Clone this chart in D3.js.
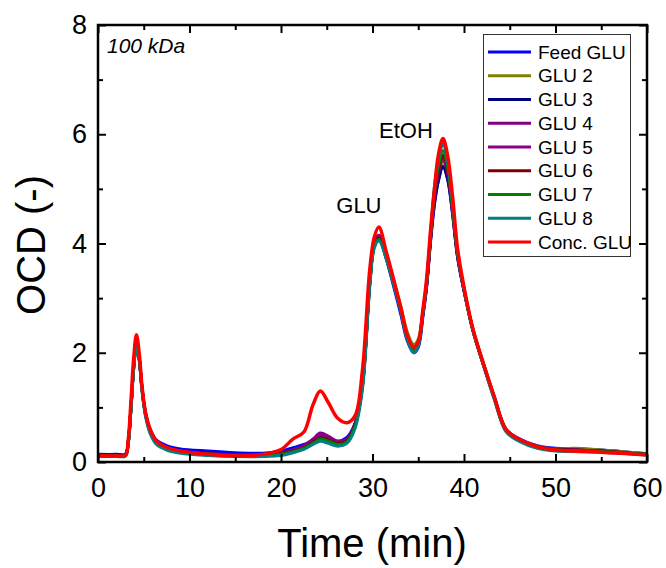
<!DOCTYPE html>
<html><head><meta charset="utf-8">
<script src="https://cdn.jsdelivr.net/npm/d3@7"></script>
<style>
html,body{margin:0;padding:0;background:#fff;}
svg{display:block;font-family:"Liberation Sans",Arial,sans-serif;}
</style>
</head><body>
<svg id="c" width="666" height="568"></svg>
<script>
const time = [0,2,3,3.3,3.6,3.9,4.2,4.5,4.8,5.2,
 5.7,6.4,7.5,9,12,15,18,20,21.3,22.5,
 23.5,24.3,25.2,26.2,27.2,28.1,28.9,29.7,30.2,30.7,
 31.5,32.3,33.1,33.8,34.5,35.0,35.5,35.9,36.35,36.8,
 37.2,37.7,38.2,38.75,39.3,40.2,41.0,42.1,43.3,44.6,
 46,48,50,52,55,58,60];

const feedGLU = [0.14,0.14,0.15,0.38,1.0,1.75,2.17,1.92,1.38,0.9,
 0.6,0.4,0.3,0.24,0.2,0.17,0.16,0.2,0.26,0.32,
 0.4,0.46,0.42,0.38,0.45,0.72,1.45,3.3,3.98,4.12,
 3.72,3.22,2.7,2.22,2.0,2.1,2.65,3.18,4.05,4.75,
 5.15,5.42,5.2,4.55,3.75,2.98,2.4,1.8,1.2,0.6,
 0.43,0.3,0.25,0.24,0.22,0.18,0.15];
const glu2 = [0.12,0.12,0.13,0.35,0.98,1.72,2.13,1.9,1.36,0.87,
 0.57,0.36,0.26,0.19,0.15,0.13,0.13,0.16,0.21,0.27,
 0.36,0.42,0.39,0.34,0.4,0.68,1.42,3.3,4.0,4.15,
 3.8,3.32,2.85,2.38,2.15,2.25,2.75,3.25,4.12,4.88,
 5.25,5.5,5.28,4.62,3.8,3.0,2.42,1.82,1.2,0.6,
 0.42,0.29,0.24,0.25,0.22,0.18,0.15];
const glu3 = [0.12,0.12,0.13,0.35,0.98,1.73,2.14,1.9,1.36,0.87,
 0.56,0.36,0.26,0.19,0.15,0.13,0.13,0.16,0.21,0.28,
 0.38,0.46,0.41,0.35,0.4,0.68,1.4,3.28,3.96,4.1,
 3.75,3.28,2.78,2.3,2.08,2.17,2.7,3.2,4.07,4.78,
 5.15,5.4,5.18,4.55,3.75,2.98,2.4,1.8,1.18,0.58,
 0.41,0.28,0.23,0.22,0.2,0.16,0.14];
const glu4 = [0.12,0.12,0.13,0.35,0.99,1.74,2.15,1.9,1.36,0.87,
 0.56,0.36,0.26,0.19,0.15,0.13,0.13,0.16,0.22,0.3,
 0.42,0.53,0.47,0.38,0.42,0.7,1.42,3.3,4.0,4.15,
 3.78,3.3,2.8,2.3,2.07,2.17,2.72,3.22,4.1,4.88,
 5.28,5.55,5.3,4.6,3.78,2.99,2.4,1.8,1.18,0.58,
 0.41,0.28,0.23,0.22,0.2,0.16,0.14];
const glu5 = [0.12,0.12,0.13,0.35,0.99,1.74,2.15,1.9,1.36,0.87,
 0.56,0.36,0.26,0.19,0.15,0.13,0.13,0.16,0.22,0.29,
 0.4,0.5,0.45,0.37,0.41,0.69,1.41,3.29,3.99,4.13,
 3.77,3.29,2.79,2.29,2.06,2.17,2.72,3.23,4.12,4.92,
 5.32,5.6,5.33,4.62,3.8,3.0,2.4,1.8,1.18,0.58,
 0.41,0.28,0.23,0.22,0.2,0.16,0.14];
const glu6 = [0.12,0.12,0.13,0.35,0.99,1.74,2.15,1.9,1.36,0.87,
 0.56,0.36,0.26,0.19,0.15,0.13,0.13,0.15,0.2,0.26,
 0.36,0.44,0.4,0.34,0.39,0.68,1.4,3.27,3.96,4.1,
 3.75,3.28,2.78,2.28,2.05,2.16,2.72,3.23,4.13,4.95,
 5.34,5.62,5.35,4.63,3.8,3.0,2.4,1.8,1.18,0.58,
 0.41,0.28,0.23,0.22,0.2,0.16,0.14];
const glu7 = [0.11,0.11,0.12,0.34,0.98,1.73,2.14,1.89,1.35,0.86,
 0.55,0.35,0.25,0.18,0.14,0.12,0.12,0.14,0.19,0.25,
 0.34,0.42,0.38,0.32,0.37,0.66,1.38,3.25,3.95,4.08,
 3.73,3.27,2.77,2.27,2.04,2.15,2.72,3.25,4.17,5.0,
 5.42,5.7,5.42,4.66,3.82,3.0,2.4,1.8,1.18,0.58,
 0.4,0.27,0.22,0.21,0.19,0.16,0.14];
const glu8 = [0.1,0.1,0.11,0.32,0.95,1.7,2.1,1.86,1.32,0.83,
 0.52,0.32,0.22,0.16,0.12,0.1,0.1,0.12,0.17,0.23,
 0.32,0.38,0.34,0.29,0.34,0.62,1.33,3.2,3.92,4.05,
 3.72,3.26,2.76,2.25,2.0,2.13,2.72,3.27,4.2,5.08,
 5.52,5.82,5.5,4.7,3.84,3.0,2.38,1.78,1.15,0.55,
 0.38,0.25,0.2,0.19,0.18,0.15,0.13];
const concGLU = [0.11,0.11,0.12,0.4,1.1,1.9,2.33,2.0,1.4,0.9,
 0.6,0.38,0.27,0.2,0.14,0.11,0.14,0.23,0.42,0.55,
 1.05,1.30,1.08,0.8,0.72,0.85,1.68,3.52,4.12,4.30,
 3.85,3.35,2.82,2.32,2.1,2.2,2.78,3.33,4.25,5.05,
 5.62,5.92,5.62,4.86,3.9,3.03,2.42,1.81,1.2,0.59,
 0.42,0.28,0.22,0.2,0.18,0.15,0.13];

const seriesNames = ["Feed GLU","GLU 2","GLU 3","GLU 4","GLU 5","GLU 6","GLU 7","GLU 8","Conc. GLU"];
const seriesValues = [feedGLU,glu2,glu3,glu4,glu5,glu6,glu7,glu8,concGLU];
const seriesColors = ["#0000FF","#808000","#000080","#800080","#8B008B","#800000","#008000","#008080","#FF0000"];

const xTicks = [0,10,20,30,40,50,60];
const xMinor = [5,15,25,35,45,55];
const yTicks = [0,2,4,6,8];
const yMinor = [1,3,5,7];
const xTitle = "Time (min)";
const yTitle = "OCD (-)";
const panelLabel = "100 kDa";
const peakLabels = [{text:"GLU", t:30.7, v:4.3}, {text:"EtOH", t:37.7, v:5.92}];

const svg = d3.select("#c");
const L = 98, R = 647, T = 25, B = 462;
const x = d3.scaleLinear().domain([0,60]).range([L,R]);
const y = d3.scaleLinear().domain([0,8]).range([B,T]);

// lines
const line = d3.line().x(d => x(d[0])).y(d => y(d[1])).curve(d3.curveCatmullRom.alpha(0.5));
const g = svg.append("g");
seriesValues.forEach((vals,i) => {
  g.append("path")
    .datum(time.map((t,j)=>[t, vals[j]]))
    .attr("d", line)
    .attr("fill","none")
    .attr("stroke", seriesColors[i])
    .attr("stroke-width", i===8 ? 3.5 : 3)
    .attr("stroke-linejoin","round");
});

// axes
function styleAxis(sel){
  sel.select(".domain").remove();
  sel.selectAll("line").attr("stroke","#000").attr("stroke-width",2);
  sel.selectAll("text").attr("font-size","27px").attr("fill","#000")
    .attr("font-family","'Liberation Sans',Arial,sans-serif");
}
svg.append("g").attr("transform",`translate(0,${B})`)
  .call(d3.axisBottom(x).tickValues(xTicks).tickSize(-8).tickPadding(16)).call(styleAxis);
svg.append("g").attr("transform",`translate(0,${B})`)
  .call(d3.axisBottom(x).tickValues(xMinor).tickSize(-5).tickFormat("")).call(styleAxis);
svg.append("g").attr("transform",`translate(0,${T})`)
  .call(d3.axisTop(x).tickValues(xTicks).tickSize(-8).tickFormat("")).call(styleAxis);
svg.append("g").attr("transform",`translate(0,${T})`)
  .call(d3.axisTop(x).tickValues(xMinor).tickSize(-5).tickFormat("")).call(styleAxis);
svg.append("g").attr("transform",`translate(${L},0)`)
  .call(d3.axisLeft(y).tickValues(yTicks).tickSize(-8).tickPadding(11)).call(styleAxis);
svg.append("g").attr("transform",`translate(${L},0)`)
  .call(d3.axisLeft(y).tickValues(yMinor).tickSize(-5).tickFormat("")).call(styleAxis);
svg.append("g").attr("transform",`translate(${R},0)`)
  .call(d3.axisRight(y).tickValues(yTicks).tickSize(-8).tickFormat("")).call(styleAxis);
svg.append("g").attr("transform",`translate(${R},0)`)
  .call(d3.axisRight(y).tickValues(yMinor).tickSize(-5).tickFormat("")).call(styleAxis);

svg.append("rect").attr("x",L).attr("y",T).attr("width",R-L).attr("height",B-T)
  .attr("fill","none").attr("stroke","#000").attr("stroke-width",2.5);

// titles
svg.append("text").attr("x",372).attr("y",557).attr("text-anchor","middle")
  .attr("font-size","40px").text(xTitle);
svg.append("text").attr("transform","translate(45,245) rotate(-90)").attr("text-anchor","middle")
  .attr("font-size","40px").text(yTitle);

svg.append("text").attr("x",107).attr("y",53).attr("font-size","21px")
  .attr("font-style","italic").text(panelLabel);

// peak labels
svg.append("text").attr("x",x(peakLabels[0].t)-20).attr("y",213).attr("text-anchor","middle")
  .attr("font-size","22px").text(peakLabels[0].text);
svg.append("text").attr("x",x(peakLabels[1].t)-37).attr("y",138).attr("text-anchor","middle")
  .attr("font-size","22px").text(peakLabels[1].text);

// legend
const lg = svg.append("g");
lg.append("rect").attr("x",483.5).attr("y",34.5).attr("width",147).attr("height",222)
  .attr("fill","#fff").attr("stroke","#333").attr("stroke-width",1);
seriesNames.forEach((n,i) => {
  const yy = 52 + i*23.75;
  lg.append("line").attr("x1",488).attr("x2",531).attr("y1",yy).attr("y2",yy)
    .attr("stroke",seriesColors[i]).attr("stroke-width",3);
  lg.append("text").attr("x",538).attr("y",yy).attr("dy","0.35em")
    .attr("font-size","19px").text(n);
});
</script>
</body></html>
